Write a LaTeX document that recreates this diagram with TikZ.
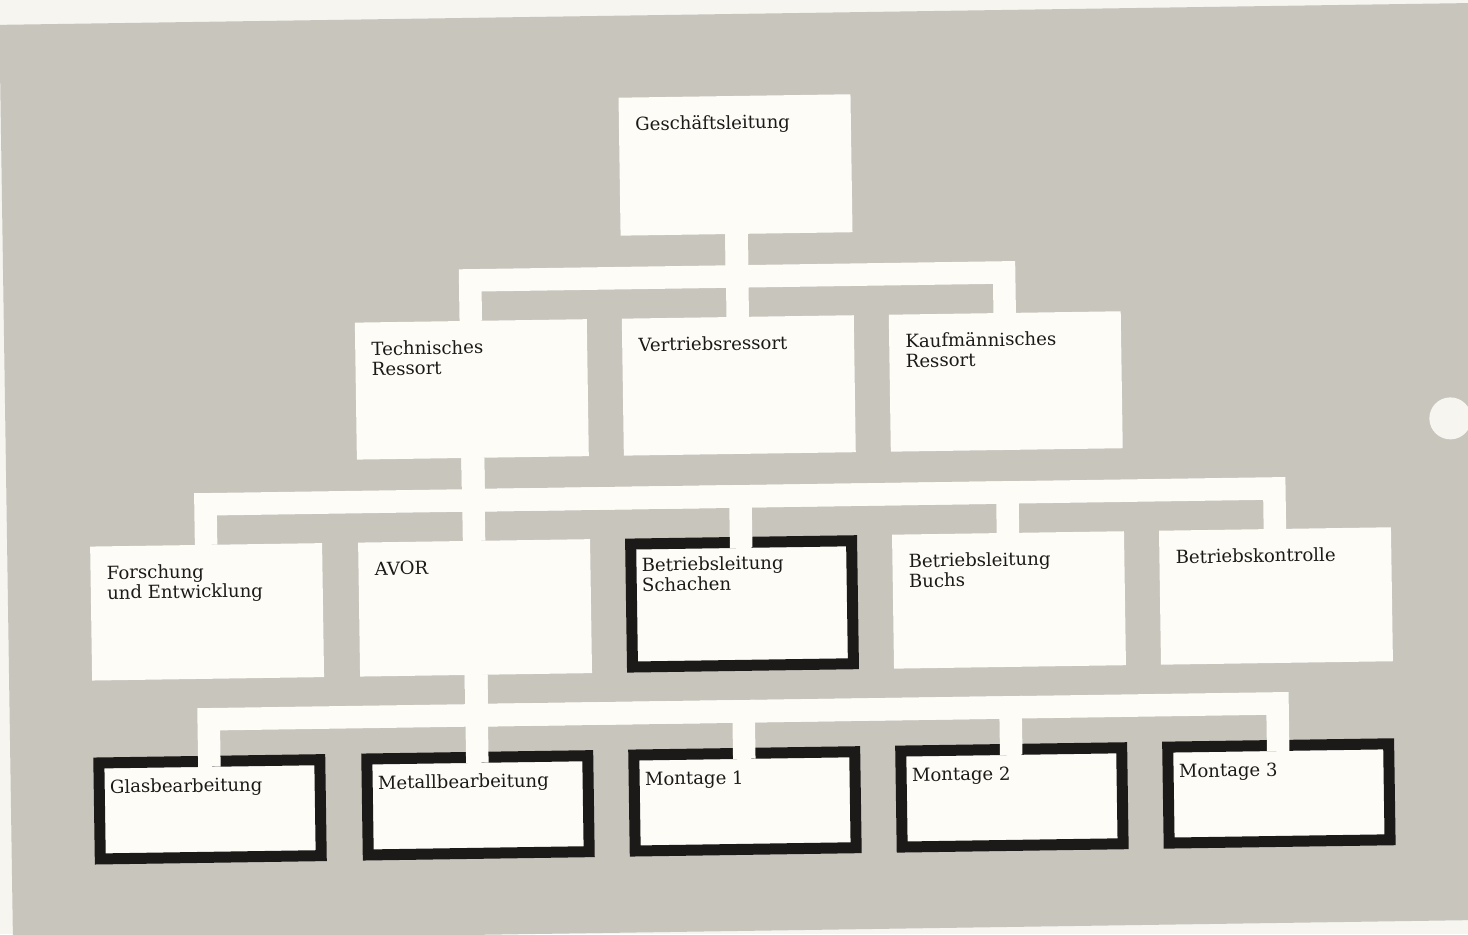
\documentclass[tikz,border=0pt]{standalone}
\usepackage{fontspec}
\setmainfont{DejaVu Serif}
\definecolor{cardgray}{RGB}{200,197,189}
\definecolor{paper}{RGB}{253,252,247}
\definecolor{sheet}{RGB}{246,245,240}
\definecolor{ink}{RGB}{28,26,24}
\begin{document}
\begin{tikzpicture}[
    x=0.02cm, y=-0.02cm,
    unit/.style={rectangle, fill=paper, inner sep=0pt, outer sep=0pt, minimum width=4.64cm},
    top unit/.style={unit, minimum height=2.76cm},
    ressort/.style={unit, minimum height=2.74cm},
    dept/.style={unit, minimum height=2.68cm},
    plant/.style={unit, draw=ink, line width=0.22cm, outer sep=0.11cm, minimum width=4.42cm},
    dept plant/.style={plant, minimum height=2.46cm},
    shop/.style={plant, minimum height=1.92cm},
    unit text/.style={anchor=base west, align=left, inner sep=0pt, text=ink, font=\fontsize{10.3}{11.4}\selectfont},
    link/.style={draw=paper, line width=0.45cm, line join=miter},
    heavy link/.style={link, shorten >=-0.22cm}
  ]

  \useasboundingbox (0,0) rectangle (1468,934);
  \clip (0,0) rectangle (1468,934);
  \fill[sheet] (0,0) rectangle (1468,934);

  \begin{scope}[rotate around={0.85:(734,467)}, transform shape]

  % Card
  \fill[cardgray] (6,14) -- (1530,14) -- (1530,931) -- (6,931) -- cycle;
  \fill[sheet] (1451,429) circle (21);

  % Geschaeftsleitung
  \node[top unit] (gl) at (740,165) {};
  \node[unit text] (gl-t) at (640,129) {Geschäftsleitung};

  % Ressorts (two-line labels sit on their last line)
  \node[ressort] (techn) at (473,385.5) {};
  \node[ressort] (vert) at (740,385.5) {};
  \node[ressort] (kaufm) at (1007,385.5) {};
  \node[unit text] (techn-t) at (373,370) {Technisches\\Ressort};
  \node[unit text] (vert-t) at (640,350) {Vertriebsressort};
  \node[unit text] (kaufm-t) at (907,370) {Kaufmännisches\\Ressort};

  % Abteilungen
  \node[dept] (forsch) at (205,604) {};
  \node[dept] (avor) at (473,604) {};
  \node[dept plant] (schach) at (740,604) {};
  \node[dept] (buchs) at (1007,604) {};
  \node[dept] (kontr) at (1274,604) {};
  \node[unit text] (forsch-t) at (105,590) {Forschung\\und Entwicklung};
  \node[unit text] (avor-t) at (373,570) {AVOR};
  \node[unit text] (schach-t) at (640,590) {Betriebsleitung\\Schachen};
  \node[unit text] (buchs-t) at (907,590) {Betriebsleitung\\Buchs};
  \node[unit text] (kontr-t) at (1174,570) {Betriebskontrolle};

  % Werkstaetten
  \node[shop] (glas) at (205,801.5) {};
  \node[shop] (metall) at (473,801.5) {};
  \node[shop] (mont1) at (740,801.5) {};
  \node[shop] (mont2) at (1007,801.5) {};
  \node[shop] (mont3) at (1274,801.5) {};
  \node[unit text] (glas-t) at (105,784) {Glasbearbeitung};
  \node[unit text] (metall-t) at (373,784) {Metallbearbeitung};
  \node[unit text] (mont1-t) at (640,784) {Montage 1};
  \node[unit text] (mont2-t) at (907,784) {Montage 2};
  \node[unit text] (mont3-t) at (1174,784) {Montage 3};

  % Bus lines
  \foreach \c/\x in {1/205,2/473,3/740,4/1007,5/1274} {
    \coordinate (bus1-\c) at (\x,276.5);
    \coordinate (bus2-\c) at (\x,496.5);
    \coordinate (bus3-\c) at (\x,711.5);
  }

  % Connections
  \draw[link] (gl.south) -- (vert.north);
  \draw[link] (gl.south) -- (bus1-3) -- (bus1-2) -- (techn.north);
  \draw[link] (gl.south) -- (bus1-3) -- (bus1-4) -- (kaufm.north);

  \draw[link] (techn.south) -- (avor.north);
  \foreach \n/\c in {forsch/1, buchs/4, kontr/5}
    \draw[link] (techn.south) -- (bus2-2) -- (bus2-\c) -- (\n.north);
  \draw[heavy link] (techn.south) -- (bus2-2) -- (bus2-3) -- (schach.north);

  \draw[heavy link] (avor.south) -- (metall.north);
  \foreach \n/\c in {glas/1, mont1/3, mont2/4, mont3/5}
    \draw[heavy link] (avor.south) -- (bus3-2) -- (bus3-\c) -- (\n.north);

  \end{scope}

\end{tikzpicture}
\end{document}
